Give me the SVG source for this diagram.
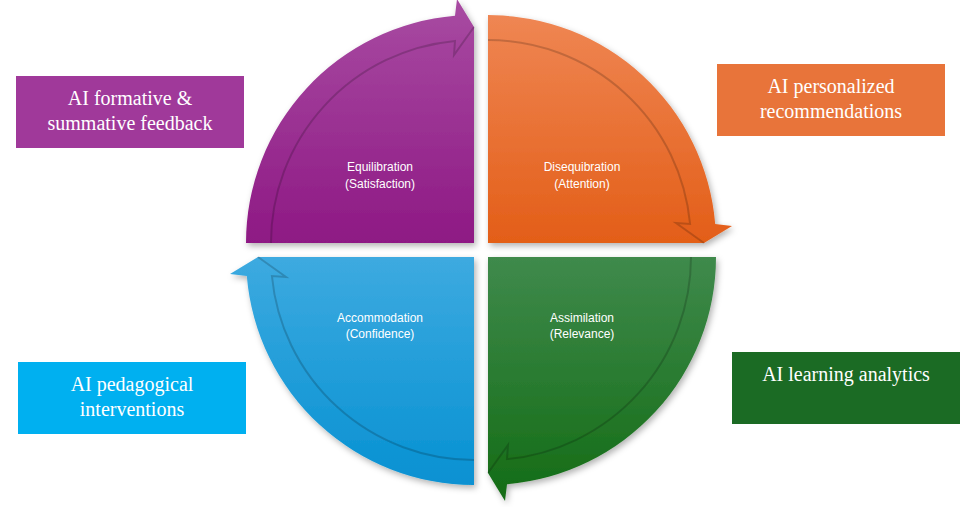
<svg xmlns="http://www.w3.org/2000/svg" width="960" height="507" viewBox="0 0 960 507">
<defs>
<filter id="sh" x="-20%" y="-20%" width="140%" height="140%"><feDropShadow dx="2" dy="3" stdDeviation="3" flood-color="#000" flood-opacity="0.3"/></filter>
<linearGradient id="gP" x1="0" y1="0" x2="0" y2="1"><stop offset="0" stop-color="#a84ba2"/><stop offset="1" stop-color="#8e1984"/></linearGradient>
<linearGradient id="gO" x1="0" y1="0" x2="0" y2="1"><stop offset="0" stop-color="#ef8653"/><stop offset="1" stop-color="#e35e18"/></linearGradient>
<linearGradient id="gG" x1="0" y1="0" x2="0" y2="1"><stop offset="0" stop-color="#3f8a4c"/><stop offset="1" stop-color="#146c15"/></linearGradient>
<linearGradient id="gB" x1="0" y1="0" x2="0" y2="1"><stop offset="0" stop-color="#3daae0"/><stop offset="1" stop-color="#0791d2"/></linearGradient>
<path id="ql" d="M-203,0 A203,203 0 0 1 -19,-202.1 L-20,-188 L0,-216" fill="none"/>
</defs>
<style>
.lbl{font-family:"Liberation Sans",Arial,sans-serif;font-size:12px;fill:#fff;text-anchor:middle}
.bt{font-family:"Liberation Serif","Times New Roman",serif;font-size:20px;fill:#fff;text-anchor:middle}
.inner{stroke:#000;stroke-opacity:0.18;stroke-width:2}
</style>
<g id="connectors"></g>
<g id="equilibration">
<path d="M474,243 L246,243 A228,228 0 0 1 455,15.8 L457,-1 L474,27 Z" fill="url(#gP)" filter="url(#sh)"/>
<use href="#ql" class="inner" transform="translate(474,243)"/>
<text class="lbl" x="380" y="171">Equilibration</text><text class="lbl" x="380" y="188">(Satisfaction)</text>
</g>
<g id="disequibration">
<path d="M488,243 L488,15 A228,228 0 0 1 715.2,224 L732,226 L704,243 Z" fill="url(#gO)" filter="url(#sh)"/>
<use href="#ql" class="inner" transform="translate(488,243) rotate(90)"/>
<text class="lbl" x="582" y="171">Disequibration</text><text class="lbl" x="582" y="188">(Attention)</text>
</g>
<g id="assimilation">
<path d="M488,257 L716,257 A228,228 0 0 1 507,484.2 L505,501 L488,473 Z" fill="url(#gG)" filter="url(#sh)"/>
<use href="#ql" class="inner" transform="translate(488,257) rotate(180)"/>
<text class="lbl" x="582" y="322">Assimilation</text><text class="lbl" x="582" y="338">(Relevance)</text>
</g>
<g id="accommodation">
<path d="M474,257 L474,485 A228,228 0 0 1 246.8,276 L230,274 L258,257 Z" fill="url(#gB)" filter="url(#sh)"/>
<use href="#ql" class="inner" transform="translate(474,257) rotate(270)"/>
<text class="lbl" x="380" y="322">Accommodation</text><text class="lbl" x="380" y="338">(Confidence)</text>
</g>
<g id="box-feedback"><rect x="16" y="76" width="228" height="72" fill="#a0399a"/><text class="bt" x="130" y="105">AI formative &amp;</text><text class="bt" x="130" y="130">summative feedback</text></g>
<g id="box-recommendations"><rect x="717" y="64" width="228" height="72" fill="#e8743a"/><text class="bt" x="831" y="93">AI personalized</text><text class="bt" x="831" y="118">recommendations</text></g>
<g id="box-interventions"><rect x="18" y="362" width="228" height="72" fill="#00b0f0"/><text class="bt" x="132" y="391">AI pedagogical</text><text class="bt" x="132" y="416">interventions</text></g>
<g id="box-analytics"><rect x="732" y="352" width="228" height="72" fill="#1b6b24"/><text class="bt" x="846" y="381">AI learning analytics</text></g>
</svg>
